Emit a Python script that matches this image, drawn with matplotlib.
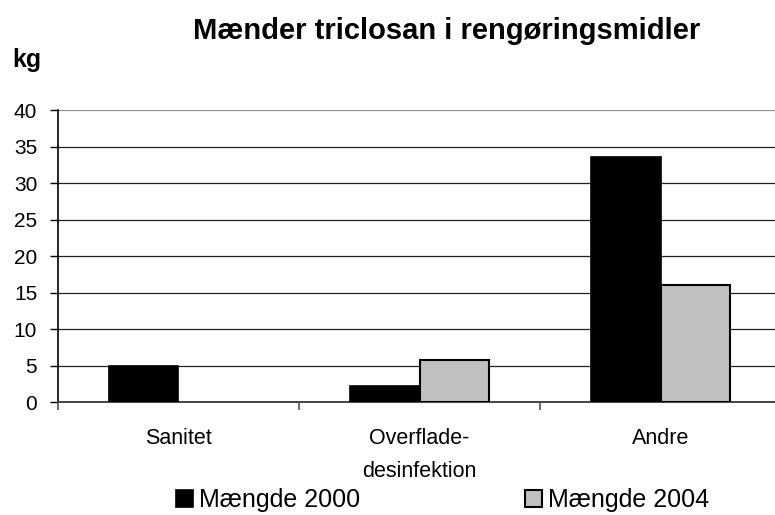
import numpy as np
import matplotlib.pyplot as plt
from matplotlib.patches import Patch

# data
categories = ['Sanitet', 'Overflade-\ndesinfektion', 'Andre']
maengde_2000 = [4.9, 2.2, 33.6]
maengde_2004 = [0.0, 5.7, 16.0]
series_labels = ['Mængde 2000', 'Mængde 2004']
yticks = [0, 5, 10, 15, 20, 25, 30, 35, 40]

plt.rcParams['font.family'] = ['Liberation Sans', 'DejaVu Sans']

fig = plt.figure(figsize=(7.75, 5.15), dpi=100)
ax = fig.add_axes([0.0748, 0.2194, 0.933, 0.567])

x = np.arange(len(categories))
w = 0.29
b1 = ax.bar(x - w / 2, maengde_2000, w, color='black', edgecolor='black', linewidth=1.2, zorder=3)
b2 = ax.bar(x + w / 2, maengde_2004, w, color='#c0c0c0', edgecolor='black', linewidth=1.5, zorder=3)
# empty bars leave no outline in the original
for bar, v in zip(b2, maengde_2004):
    if v == 0:
        bar.set_linewidth(0)

ax.set_xlim(-0.5, 2.5)
ax.set_ylim(0, 40)
ax.set_yticks(yticks)
ax.set_yticklabels([str(v) for v in yticks], fontsize=15)
ax.yaxis.grid(True, color='#222222', linewidth=0.9, zorder=0)
ax.get_ygridlines()[-1].set_color('#909090')
ax.get_ygridlines()[-1].set_linewidth(1.6)

ax.set_xticks(x)
ax.set_xticklabels(categories, fontsize=15.5, linespacing=1.75)
ax.tick_params(axis='x', length=0, pad=19)
ax.set_xticks([-0.5, 0.5, 1.5], minor=True)
ax.tick_params(axis='x', which='minor', length=6, width=1.2, color='#555555')
ax.tick_params(axis='y', length=6, width=1, color='black', pad=9)

for s in ['top', 'right']:
    ax.spines[s].set_visible(False)
ax.spines['left'].set_linewidth(1.2)
ax.spines['bottom'].set_linewidth(1.4)
ax.spines['bottom'].set_color('#444444')

fig.text(0.576, 0.924, 'Mænder triclosan i rengøringsmidler', ha='center', va='baseline',
         fontsize=21, fontweight='bold')
fig.text(0.016, 0.870, 'kg', ha='left', va='baseline', fontsize=18, fontweight='bold')

handles = [Patch(facecolor='black', edgecolor='black', linewidth=1.2),
           Patch(facecolor='#c0c0c0', edgecolor='black', linewidth=1.5)]
fig.legend(handles=handles, labels=series_labels, loc='center', bbox_to_anchor=(0.571, 0.029),
           ncol=2, frameon=False, fontsize=18, handlelength=0.68, handleheight=0.68,
           handletextpad=0.24, columnspacing=6.6, borderaxespad=0, borderpad=0)

fig.savefig('out.png', dpi=100)
